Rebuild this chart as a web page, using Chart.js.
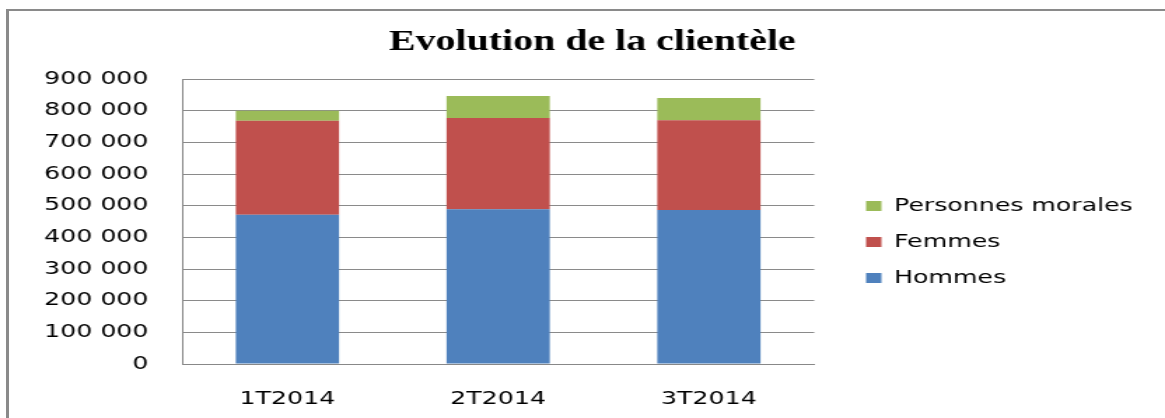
<!DOCTYPE html>
<html>
<head>
<meta charset="utf-8">
<script src="https://cdn.jsdelivr.net/npm/chart.js@4"></script>
<style>
  html, body { margin: 0; padding: 0; background: #fff; overflow: hidden; }
  #frame {
    position: absolute; left: 6px; top: 9px; width: 2000px; height: 2000px;
    border-top: 2px solid #8a8a8a; border-left: 3px solid #8a8a8a;
  }
  #chart { position: absolute; left: 0; top: 0; }
</style>
</head>
<body>
<div id="frame"></div>
<!-- the original picture is stretched sideways, so the canvas is too -->
<canvas id="chart" width="832" height="418" style="width:1165px;height:418px"></canvas>
<script>
const categories = ["1T2014", "2T2014", "3T2014"];
const hommes = [471000, 489000, 486000];
const femmes = [297000, 288000, 284000];
const personnesMorales = [32000, 69000, 70000];
const yTicks = { min: 0, max: 900000, step: 100000 };

const chartTitle = "Evolution de la clientèle";
const labelFont = { family: "DejaVu Sans", size: 18 };

function fmt(v) {
    return String(v).replace(/\B(?=(\d{3})+(?!\d))/g, " ");
}

// title drawn by hand so it can sit where the original has it
const titlePlugin = {
    id: "bigTitle",
    afterDraw(chart) {
        const ctx = chart.ctx;
        ctx.save();
        ctx.font = "bold 28.5px 'Liberation Serif'";
        ctx.fillStyle = "#000";
        ctx.textAlign = "center";
        ctx.textBaseline = "alphabetic";
        ctx.fillText(chartTitle, 423, 50);
        ctx.restore();
    }
};

const ctx = document.getElementById("chart").getContext("2d");
new Chart(ctx, {
    type: "bar",
    data: {
        labels: categories,
        datasets: [
            { label: "Hommes", data: hommes, backgroundColor: "#4F81BD", borderWidth: 0 },
            { label: "Femmes", data: femmes, backgroundColor: "#C0504D", borderWidth: 0 },
            { label: "Personnes morales", data: personnesMorales, backgroundColor: "#9BBB59", borderWidth: 0 }
        ]
    },
    options: {
        responsive: false,
        devicePixelRatio: 1,
        animation: false,
        categoryPercentage: 1,
        barPercentage: 0.49,
        layout: { padding: { left: 8, right: 13, top: 79, bottom: 13 } },
        plugins: {
            title: { display: false },
            tooltip: { enabled: false },
            legend: {
                position: "right",
                reverse: true,
                maxWidth: 320,
                labels: {
                    font: labelFont,
                    color: "#000",
                    boxWidth: 11,
                    boxHeight: 10,
                    padding: 18
                }
            }
        },
        scales: {
            x: {
                stacked: true,
                grid: { display: false },
                border: { display: true, color: "#888", width: 1 },
                ticks: { font: labelFont, color: "#000", padding: 17, maxRotation: 0 },
                afterFit(axis) { axis.height = 41; }
            },
            y: {
                stacked: true,
                min: yTicks.min,
                max: yTicks.max,
                grid: { color: "#8a8a8a", lineWidth: 1, drawTicks: false },
                border: { display: true, color: "#888", width: 1 },
                ticks: {
                    stepSize: yTicks.step,
                    font: labelFont,
                    color: "#000",
                    padding: 24,
                    callback: (v) => fmt(v)
                },
                afterFit(axis) { axis.width = 122; }
            },
            // empty spacer between the plot and the legend
            gap: {
                position: "right",
                grid: { display: false },
                border: { display: false },
                ticks: { display: false },
                afterFit(axis) { axis.width = 19; }
            }
        }
    },
    plugins: [titlePlugin]
});
</script>
</body>
</html>
